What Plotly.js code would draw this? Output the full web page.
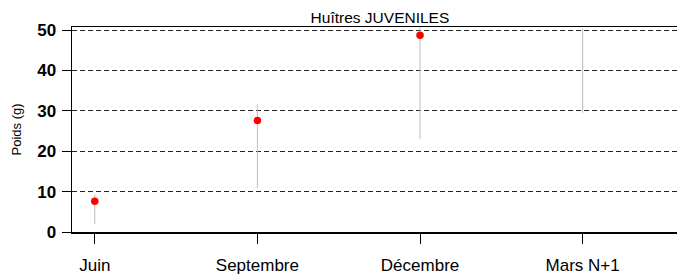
<!DOCTYPE html>
<html><head><meta charset="utf-8">
<script src="https://cdn.plot.ly/plotly-3.0.1.min.js"></script>
<style>html,body{margin:0;padding:0;background:#fff}#c{width:677px;height:275px}</style>
</head><body><div id="c"></div>
<script>
const categories = ['Juin', 'Septembre', 'Décembre', 'Mars N+1'];
const means = [7.6, 27.6, 48.7, null];
const lows = [2.0, 10.8, 23.1, 29.5];
const highs = [9.3, 31.6, 50.7, 50.3];
const yTicks = [0, 10, 20, 30, 40, 50];

const segX = [], segY = [];
categories.forEach((c, i) => { segX.push(i, i, null); segY.push(lows[i], highs[i], null); });

const traces = [
  {x: segX, y: segY, type: 'scatter', mode: 'lines', line: {color: '#bdbdbd', width: 1}, hoverinfo: 'skip', showlegend: false, cliponaxis: false},
  {x: categories.map((c, i) => i), y: means, type: 'scatter', mode: 'markers', marker: {color: '#ff0000', size: 7.5}, showlegend: false, cliponaxis: false}
];

const layout = {
  width: 677, height: 275,
  margin: {l: 72, r: 0, t: 27, b: 43},
  paper_bgcolor: '#fff', plot_bgcolor: '#fff',
  font: {family: 'Liberation Sans, Arial, sans-serif', color: '#000'},
  title: {text: 'Huîtres JUVENILES', font: {size: 15.5, color: '#000'}, x: 0.509, xref: 'paper', xanchor: 'center', y: 0.935, yref: 'container', yanchor: 'middle'},
  xaxis: {
    range: [-0.14, 3.58], tickvals: categories.map((c, i) => i), ticktext: categories,
    showgrid: false, zeroline: false, showline: true, linecolor: '#000', linewidth: 1.5, mirror: true,
    ticks: 'outside', ticklen: 10, tickwidth: 1, tickcolor: '#000',
    tickfont: {size: 17, color: '#000'}, ticklabelstandoff: 7
  },
  yaxis: {
    range: [0, 50.75], tickvals: yTicks, ticktext: yTicks.map(String),
    showgrid: true, gridcolor: '#222', griddash: '5px,3px', gridwidth: 1, zeroline: false,
    showline: true, linecolor: '#000', linewidth: 1.5,
    ticks: 'outside', ticklen: 9, tickwidth: 1, tickcolor: '#000',
    tickfont: {size: 17, color: '#000', weight: 'bold'}, ticklabelstandoff: 2,
    title: {text: 'Poids (g)', font: {size: 13, color: '#000'}, standoff: 12}
  }
};
Plotly.newPlot('c', traces, layout, {staticPlot: true});
</script></body></html>
